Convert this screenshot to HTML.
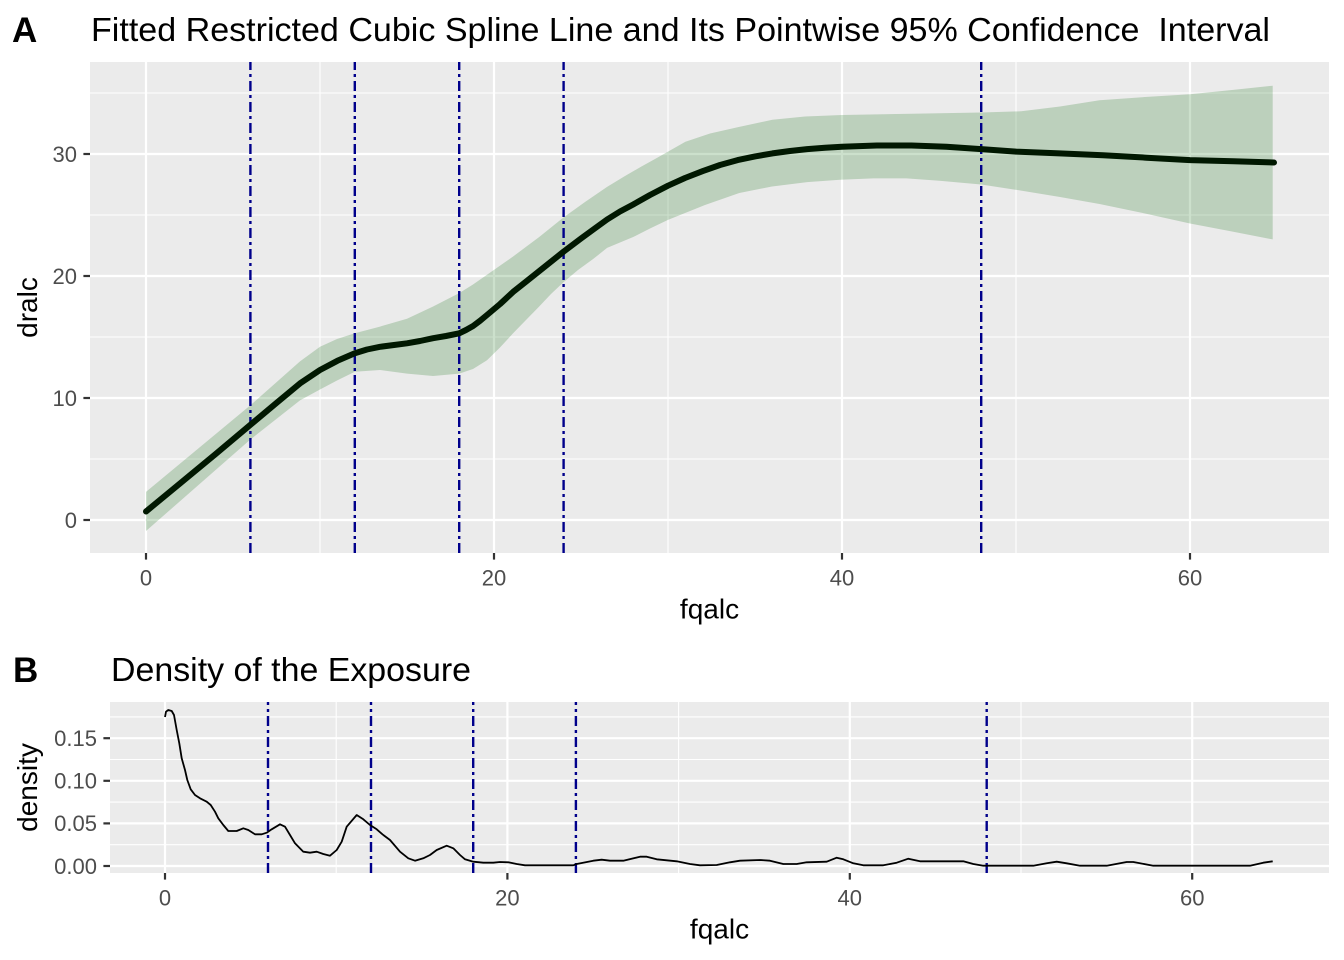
<!DOCTYPE html>
<html><head><meta charset="utf-8"><style>
html,body{margin:0;padding:0;background:#fff;}
svg{display:block;}
text{font-family:"Liberation Sans",Arial,sans-serif;}
</style></head><body>
<svg width="1344" height="960" viewBox="0 0 1344 960" xmlns="http://www.w3.org/2000/svg">
<rect x="0" y="0" width="1344" height="960" fill="#fff"/>

<!-- ================= PANEL A ================= -->
<rect x="90" y="62" width="1239" height="491" fill="#EBEBEB"/>
<g stroke="#fff" stroke-width="1.1">
  <line x1="90" x2="1329" y1="459" y2="459"/>
  <line x1="90" x2="1329" y1="337" y2="337"/>
  <line x1="90" x2="1329" y1="215" y2="215"/>
  <line x1="90" x2="1329" y1="93" y2="93"/>
  <line x1="320" x2="320" y1="62" y2="553"/>
  <line x1="668" x2="668" y1="62" y2="553"/>
  <line x1="1016" x2="1016" y1="62" y2="553"/>
</g>
<g stroke="#fff" stroke-width="2.2">
  <line x1="90" x2="1329" y1="520" y2="520"/>
  <line x1="90" x2="1329" y1="398" y2="398"/>
  <line x1="90" x2="1329" y1="276" y2="276"/>
  <line x1="90" x2="1329" y1="154" y2="154"/>
  <line x1="146" x2="146" y1="62" y2="553"/>
  <line x1="494" x2="494" y1="62" y2="553"/>
  <line x1="842" x2="842" y1="62" y2="553"/>
  <line x1="1190" x2="1190" y1="62" y2="553"/>
</g>

<!-- confidence band -->
<path fill="#006400" fill-opacity="0.2" d="M146,491.9 L250.4,405.3 L300,361.4 L320,346.8 L337,339 L354.8,333.3 L380,326.6 L407,318.7 L433.1,306.5 L459.2,293.1 L473,284.5 L487,274.8 L513.1,256.5 L539.2,237 L563.6,217.4 L585,202 L607.1,186.9 L625,176 L641.9,166.2 L655,159 L668,151.6 L685.4,141.8 L710,133.5 L737.6,127.2 L772.4,119.8 L805,116.5 L842,115 L911.6,113.7 L981.2,112.5 L1021.2,111.3 L1060,106.5 L1099.5,100.3 L1145,97 L1190,94.2 L1232,90 L1272.7,85.7
L1272.7,239.4 L1232,231.5 L1190,223.5 L1145,213.5 L1099.5,204 L1060,197 L1021.2,190.6 L981.2,184.5 L939.4,180.8 L906.4,178.4 L873.3,178.4 L840,179.8 L807.2,182.1 L772,186.5 L739.3,193 L705,205 L668,219.9 L650,228.5 L633.2,237 L620,242.5 L607.1,247.9 L593.3,258.9 L578,270 L563.6,282.1 L551,294 L539.2,306.5 L526,320 L513.1,333.3 L500,347.5 L487,360.2 L473,369 L459.2,373.6 L433.1,376 L407,373.6 L380,370 L354.8,371.8 L337,380.5 L320,389.5 L300,400.4 L250.4,439.5 L146,531 Z"/>

<!-- knot lines A -->
<g stroke="#00008B" stroke-width="2.4" stroke-dasharray="10 4 3 4">
  <line x1="250.4" x2="250.4" y1="553" y2="62"/>
  <line x1="354.8" x2="354.8" y1="553" y2="62"/>
  <line x1="459.2" x2="459.2" y1="553" y2="62"/>
  <line x1="563.6" x2="563.6" y1="553" y2="62"/>
  <line x1="981.2" x2="981.2" y1="553" y2="62"/>
</g>

<!-- fitted line -->
<polyline fill="none" stroke="#011801" stroke-width="6" stroke-linecap="round" stroke-linejoin="round" points="146,511.5 180.8,482.8 215.6,454.1 250.4,424.8 276.5,402.9 300,383.4 320,370 337.4,360.8 354.8,353.3 367,349.5 380,346.8 394,345 407,343.3 420,341 433.1,338.2 446,336 459.2,333.3 466,330 473.1,326 480,320.8 487,315 500.1,304 513.1,291.9 526.2,281.5 539.2,271.1 551.4,261.4 563.6,251.6 581,238.5 594,229 607.1,219.5 620,211.5 633.2,204.5 650,195 668,185.7 685,178 702.8,171.1 720,165 737.6,160.1 755,156.4 772.4,153.4 790,151 807.2,149.1 825,147.7 842,146.7 876.8,145.5 911.6,145.5 946.4,146.7 981.2,149.1 1016,151.6 1059.5,153.4 1103,155.2 1146.5,157.7 1190,160.1 1233.5,161.3 1274,162.5"/>

<!-- axes ticks A -->
<g stroke="#333" stroke-width="2.2">
  <line x1="83.4" x2="90" y1="520" y2="520"/>
  <line x1="83.4" x2="90" y1="398" y2="398"/>
  <line x1="83.4" x2="90" y1="276" y2="276"/>
  <line x1="83.4" x2="90" y1="154" y2="154"/>
  <line x1="146" x2="146" y1="553" y2="559.6"/>
  <line x1="494" x2="494" y1="553" y2="559.6"/>
  <line x1="842" x2="842" y1="553" y2="559.6"/>
  <line x1="1190" x2="1190" y1="553" y2="559.6"/>
</g>
<g fill="#4D4D4D" font-size="22">
  <text x="77" y="527.8" text-anchor="end">0</text>
  <text x="77" y="405.8" text-anchor="end">10</text>
  <text x="77" y="283.8" text-anchor="end">20</text>
  <text x="77" y="161.8" text-anchor="end">30</text>
  <text x="146" y="585.5" text-anchor="middle">0</text>
  <text x="494" y="585.5" text-anchor="middle">20</text>
  <text x="842" y="585.5" text-anchor="middle">40</text>
  <text x="1190" y="585.5" text-anchor="middle">60</text>
</g>
<text x="709.5" y="618.5" font-size="28" text-anchor="middle" fill="#000">fqalc</text>
<text transform="translate(37,307.5) rotate(-90)" font-size="28" text-anchor="middle" fill="#000">dralc</text>
<text x="91" y="41" font-size="33.5" fill="#000" style="white-space:pre" textLength="1179" lengthAdjust="spacingAndGlyphs">Fitted Restricted Cubic Spline Line and Its Pointwise 95% Confidence  Interval</text>
<text x="12" y="42" font-size="35" font-weight="bold" fill="#000">A</text>

<!-- ================= PANEL B ================= -->
<rect x="110" y="702" width="1219" height="171" fill="#EBEBEB"/>
<g stroke="#fff" stroke-width="1.1">
  <line x1="110" x2="1329" y1="844.7" y2="844.7"/>
  <line x1="110" x2="1329" y1="802.1" y2="802.1"/>
  <line x1="110" x2="1329" y1="759.5" y2="759.5"/>
  <line x1="110" x2="1329" y1="716.9" y2="716.9"/>
  <line x1="336.2" x2="336.2" y1="702" y2="873"/>
  <line x1="678.6" x2="678.6" y1="702" y2="873"/>
  <line x1="1021" x2="1021" y1="702" y2="873"/>
</g>
<g stroke="#fff" stroke-width="2.2">
  <line x1="110" x2="1329" y1="866" y2="866"/>
  <line x1="110" x2="1329" y1="823.4" y2="823.4"/>
  <line x1="110" x2="1329" y1="780.8" y2="780.8"/>
  <line x1="110" x2="1329" y1="738.2" y2="738.2"/>
  <line x1="165" x2="165" y1="702" y2="873"/>
  <line x1="507.4" x2="507.4" y1="702" y2="873"/>
  <line x1="849.8" x2="849.8" y1="702" y2="873"/>
  <line x1="1192.2" x2="1192.2" y1="702" y2="873"/>
</g>
<g stroke="#00008B" stroke-width="2.4" stroke-dasharray="10 4 3 4">
  <line x1="268" x2="268" y1="873" y2="702"/>
  <line x1="371" x2="371" y1="873" y2="702"/>
  <line x1="473.2" x2="473.2" y1="873" y2="702"/>
  <line x1="575.9" x2="575.9" y1="873" y2="702"/>
  <line x1="986.7" x2="986.7" y1="873" y2="702"/>
</g>
<polyline fill="none" stroke="#000" stroke-width="1.8" stroke-linejoin="round" points="165,717 166,711.7 168.3,710 171.7,711 174,715 176.7,730 179.3,743.3 181.7,758.3 185,770 187.3,780 190.7,789.3 195,795 200,798.3 206.7,801.7 210.7,805 215,811.7 218.3,818.3 223.3,825 228.3,831 236.7,831 243.3,828.3 248.3,830 255,834.3 261.7,834.3 266.7,832.7 271.7,829.3 280,824.3 285,826.7 290,835 295,843.3 303.3,851.7 310,852.7 316.7,851.7 323.3,854 330,855.7 336.7,850 341.7,841.7 346.7,826.7 356.7,815 363.3,819.3 370,825 376.7,829.3 383.3,835 390,840 400,851.7 408.3,858.3 415,860.7 423.3,858.3 430,855 436.7,850 446.7,845.7 453.3,848.3 460,855 465,859.3 473.3,861.7 483.3,862.7 493.3,862.7 500,862 508.3,862.3 516.7,864 525,865.3 573.3,865.3 576.7,864 593.3,860.7 601.7,859.7 610,860.7 623.3,860.7 640,856.7 646.7,856.7 656.7,859.3 676.7,861.3 690,864 700,865.3 716.7,865 730,862.3 740,860.7 760,860 770,860.7 783.3,864 796.7,864 806.7,862.3 826.7,861.7 836.7,857.7 843.3,859.3 853.3,863.3 863.3,865.3 883.3,865.3 896.7,862.7 908.3,858.7 920,861.3 963.3,861.3 973.3,864 983.3,865.7 1033.3,865.7 1046.7,863.3 1056.7,861.7 1066.7,863.3 1080,865.7 1106.7,865.7 1126.7,862 1133.3,862 1153.3,865.7 1250,865.7 1263.3,862.7 1272.7,861.3"/>

<g stroke="#333" stroke-width="2.2">
  <line x1="103.4" x2="110" y1="866" y2="866"/>
  <line x1="103.4" x2="110" y1="823.4" y2="823.4"/>
  <line x1="103.4" x2="110" y1="780.8" y2="780.8"/>
  <line x1="103.4" x2="110" y1="738.2" y2="738.2"/>
  <line x1="165" x2="165" y1="873" y2="879.6"/>
  <line x1="507.4" x2="507.4" y1="873" y2="879.6"/>
  <line x1="849.8" x2="849.8" y1="873" y2="879.6"/>
  <line x1="1192.2" x2="1192.2" y1="873" y2="879.6"/>
</g>
<g fill="#4D4D4D" font-size="22">
  <text x="97" y="873.8" text-anchor="end">0.00</text>
  <text x="97" y="831.2" text-anchor="end">0.05</text>
  <text x="97" y="788.6" text-anchor="end">0.10</text>
  <text x="97" y="746" text-anchor="end">0.15</text>
  <text x="165" y="905.5" text-anchor="middle">0</text>
  <text x="507.4" y="905.5" text-anchor="middle">20</text>
  <text x="849.8" y="905.5" text-anchor="middle">40</text>
  <text x="1192.2" y="905.5" text-anchor="middle">60</text>
</g>
<text x="719.5" y="938.5" font-size="28" text-anchor="middle" fill="#000">fqalc</text>
<text transform="translate(37,787.5) rotate(-90)" font-size="28" text-anchor="middle" fill="#000">density</text>
<text x="111" y="681" font-size="33.5" fill="#000" textLength="360" lengthAdjust="spacingAndGlyphs">Density of the Exposure</text>
<text x="13" y="682" font-size="35" font-weight="bold" fill="#000">B</text>
</svg>
</body></html>
